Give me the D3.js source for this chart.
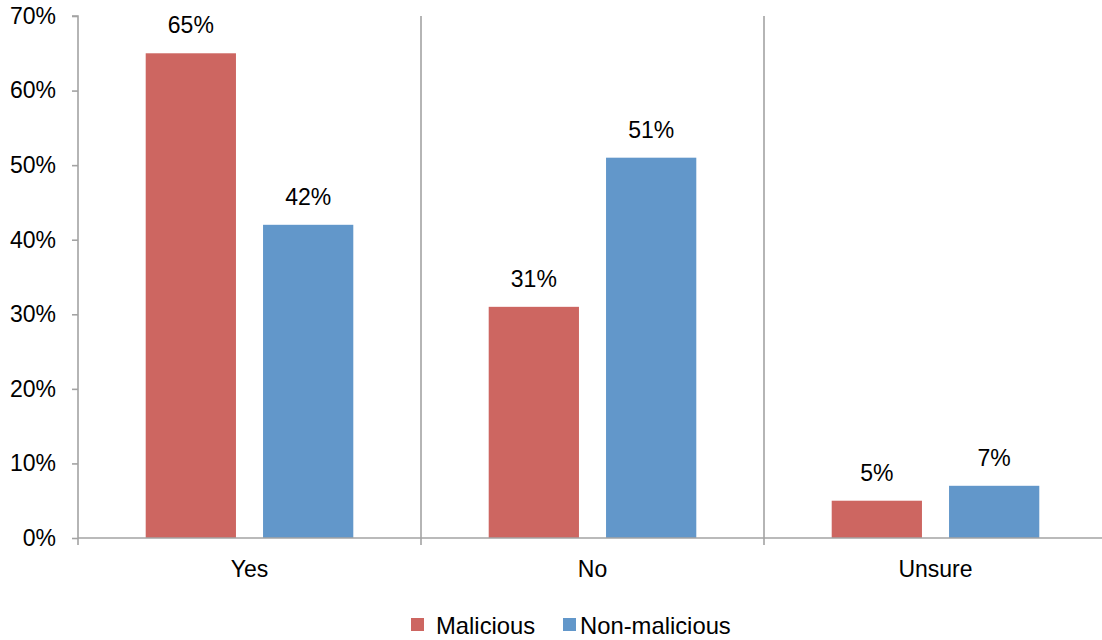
<!DOCTYPE html>
<html>
<head>
<meta charset="utf-8">
<script src="https://cdn.jsdelivr.net/npm/d3@7"></script>
<style>
  html, body { margin: 0; padding: 0; background: #fff; }
  svg { display: block; font-family: "Liberation Sans", Arial, sans-serif; }
</style>
</head>
<body>
<svg id="chart" width="1102" height="640"></svg>
<script>
// Survey answers, split by insider type
const categories = ["Yes", "No", "Unsure"];
const seriesNames = ["Malicious", "Non-malicious"];
const malicious = [65, 31, 5];
const nonMalicious = [42, 51, 7];
const yTicks = [0, 10, 20, 30, 40, 50, 60, 70];

const seriesValues = [malicious, nonMalicious];
const colors = ["#CD6661", "#6297CA"];

const svg = d3.select("#chart");
const plotLeft = 78, plotRight = 1107, plotTop = 16, plotBottom = 538;
const fontSize = 23;

const x0 = d3.scaleBand().domain(categories).range([plotLeft, plotRight]).padding(0);
const x1 = d3.scaleBand().domain(seriesNames)
  .range([0, x0.bandwidth()])
  .paddingInner(0.2308)
  .paddingOuter(0.577);
const y = d3.scaleLinear().domain([0, 70]).range([plotBottom, plotTop]);

const axisColor = "#a3a3a3";

// Bars
const groups = svg.append("g").selectAll("g")
  .data(categories)
  .join("g")
  .attr("transform", d => `translate(${x0(d)},0)`);

const cellData = (c, i) => seriesNames.map((s, k) => ({ s, v: seriesValues[k][i], k }));

groups.selectAll("rect")
  .data(cellData)
  .join("rect")
  .attr("x", d => x1(d.s))
  .attr("y", d => y(d.v))
  .attr("width", x1.bandwidth())
  .attr("height", d => y(0) - y(d.v))
  .attr("fill", d => colors[d.k]);

// Value labels
groups.selectAll("text.val")
  .data(cellData)
  .join("text")
  .attr("class", "val")
  .attr("x", d => x1(d.s) + x1.bandwidth() / 2)
  .attr("y", d => y(d.v) - 20)
  .attr("text-anchor", "middle")
  .attr("font-size", fontSize)
  .attr("fill", "#000")
  .text(d => d.v + "%");

// Y axis
const yAxis = svg.append("g")
  .attr("transform", `translate(${plotLeft},0)`)
  .call(d3.axisLeft(y).tickValues(yTicks).tickSize(6).tickPadding(16).tickFormat(d => d + "%"));
yAxis.select(".domain").attr("stroke", axisColor).attr("stroke-width", 1.6)
  .attr("d", `M-6,${plotTop}H0V${plotBottom}`);
yAxis.selectAll(".tick line").attr("stroke", axisColor).attr("stroke-width", 1.6);
yAxis.selectAll(".tick text").attr("font-size", fontSize).attr("fill", "#000")
  .attr("font-family", "Liberation Sans, Arial, sans-serif");

// X axis baseline and category separators
svg.append("line")
  .attr("x1", plotLeft).attr("x2", plotRight)
  .attr("y1", plotBottom).attr("y2", plotBottom)
  .attr("stroke", axisColor).attr("stroke-width", 1.6);

const seps = categories.map(c => x0(c));
svg.append("g").selectAll("line")
  .data(seps)
  .join("line")
  .attr("x1", d => d).attr("x2", d => d)
  .attr("y1", (d, i) => i === 0 ? plotBottom : plotTop)
  .attr("y2", plotBottom + 7)
  .attr("stroke", axisColor).attr("stroke-width", 1.6);

// Category labels
svg.append("g").selectAll("text")
  .data(categories)
  .join("text")
  .attr("x", d => x0(d) + x0.bandwidth() / 2)
  .attr("y", plotBottom + 39)
  .attr("text-anchor", "middle")
  .attr("font-size", fontSize)
  .attr("fill", "#000")
  .text(d => d);

// Legend
const legendX = [411, 563];
const legend = svg.append("g").selectAll("g")
  .data(seriesNames)
  .join("g")
  .attr("transform", (d, i) => `translate(${legendX[i]},618)`);
legend.append("rect")
  .attr("width", 13).attr("height", 13)
  .attr("fill", (d, i) => colors[i]);
legend.append("text")
  .attr("x", (d, i) => i === 0 ? 25 : 17)
  .attr("y", 16)
  .attr("font-size", 23.8)
  .attr("fill", "#000")
  .text(d => d);
</script>
</body>
</html>
